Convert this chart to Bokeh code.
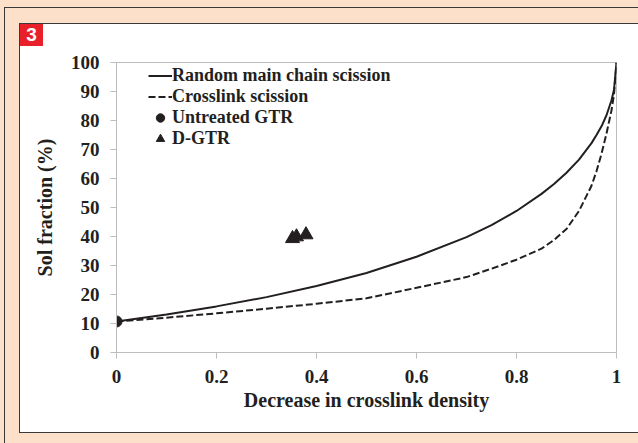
from bokeh.plotting import figure
from bokeh.models import (Range1d, FixedTicker, Legend, LegendItem, Spacer,
                          Div, Row, Column)
from bokeh.embed import file_html
from bokeh.resources import INLINE

# ---- data ----
decrease = [0, 0.1, 0.2, 0.3, 0.4, 0.5, 0.6, 0.7, 0.75, 0.8, 0.85, 0.875,
            0.9, 0.925, 0.95, 0.96, 0.97, 0.98, 0.99, 0.995, 1.0]
random_scission = [10.7, 13.1, 15.9, 19.1, 22.9, 27.4, 33.0, 39.8, 43.9,
                   48.8, 54.7, 58.1, 62.0, 66.5, 72.2, 75.0, 78.0, 81.8,
                   87.0, 90.6, 100.0]
crosslink_scission = [10.7, 12.0, 13.5, 15.1, 16.8, 18.7, 22.3, 26.0, 28.9,
                      32.0, 35.8, 38.8, 42.6, 48.8, 57.5, 62.5, 68.5, 75.5,
                      83.5, 89.0, 100.0]
untreated_x = [0.0]
untreated_y = [10.7]
dgtr_x = [0.352, 0.36, 0.379]
dgtr_y = [39.3, 39.9, 40.6]

x_ticks = [0, 0.2, 0.4, 0.6, 0.8, 1]
x_tick_labels = ["0", "0.2", "0.4", "0.6", "0.8", "1"]
y_ticks = [0, 10, 20, 30, 40, 50, 60, 70, 80, 90, 100]

legend_labels = ["Random main chain scission", "Crosslink scission",
                 "Untreated GTR", "D-GTR"]
badge_label = "3"

PEACH = "#fde0c9"
RED = "#e8202a"
DARK = "#3a3a3a"
TEXT = "#231f20"
GRAY = "#bdbdbd"
SERIF = "Liberation Serif"

p = figure(width=618, height=386, output_backend="svg", toolbar_location=None,
           x_range=Range1d(0, 1), y_range=Range1d(0, 100),
           min_border_left=96, min_border_right=22, min_border_top=16,
           min_border_bottom=80, border_fill_color="white",
           background_fill_color="white")
p.outline_line_color = GRAY
p.outline_line_width = 1
p.grid.visible = False

# axes
for ax in (p.xaxis[0], p.yaxis[0]):
    ax.axis_line_color = GRAY
    ax.major_tick_line_color = GRAY
    ax.major_tick_out = 6
    ax.major_tick_in = 0
    ax.minor_tick_line_color = None
    ax.major_label_text_font = SERIF
    ax.major_label_text_font_style = "bold"
    ax.major_label_text_font_size = "19px"
    ax.major_label_text_color = TEXT
    ax.axis_label_text_font = SERIF
    ax.axis_label_text_font_style = "bold"
    ax.axis_label_text_font_size = "20px"
    ax.axis_label_text_color = TEXT

p.xaxis.ticker = FixedTicker(ticks=x_ticks)
p.xaxis.major_label_overrides = {t: l for t, l in zip(x_ticks, x_tick_labels)}
p.xaxis.major_label_standoff = 11
p.xaxis.axis_label = "Decrease in crosslink density"
p.xaxis.axis_label_standoff = 3

p.yaxis.ticker = FixedTicker(ticks=y_ticks)
p.yaxis.major_label_standoff = 11
p.yaxis.axis_label = "Sol fraction (%)"
p.yaxis.axis_label_standoff = 12

# series
r1 = p.line(decrease, random_scission, line_color=TEXT, line_width=2)
r2 = p.line(decrease, crosslink_scission, line_color=TEXT, line_width=2,
            line_dash="7 3")
r3 = p.scatter(untreated_x, untreated_y, marker="circle", size=11,
               color=TEXT)
r4 = p.scatter(dgtr_x, dgtr_y, marker="triangle", size=14, color=TEXT)

legend = Legend(items=[LegendItem(label=l, renderers=[r])
                       for l, r in zip(legend_labels, [r1, r2, r3, r4])],
                location=(32, 203))
legend.background_fill_alpha = 0
legend.border_line_color = None
legend.padding = 0
legend.margin = 0
legend.spacing = 0
legend.glyph_width = 24
legend.glyph_height = 21
legend.label_height = 21
legend.label_standoff = 0
legend.label_text_font = SERIF
legend.label_text_font_style = "bold"
legend.label_text_font_size = "18px"
legend.label_text_color = TEXT
p.add_layout(legend)


# ---- page decoration: peach frame, dark rules, white panel, badge ----
def sp(w, h, color=None):
    if color is None:
        return Spacer(width=w, height=h)
    return Spacer(width=w, height=h, styles={"background-color": color})


badge = Div(
    text=(f'<div style="width:23px;height:22px;background:{RED};color:#fff;'
          f"font-family:'Liberation Sans';font-weight:bold;font-size:19px;"
          f'text-align:center;line-height:22px;">{badge_label}</div>'),
    width=23, height=22, margin=0,
    styles={"background-color": RED})

panel = Column(children=[Row(children=[badge, sp(595, 22, "white")]), p],
               styles={"background-color": "white"})

root = Column(children=[
    sp(638, 7),
    Row(children=[sp(4, 1), sp(634, 1, DARK)]),
    Row(children=[sp(4, 15), sp(1, 15, DARK), sp(633, 15)]),
    Row(children=[sp(4, 1), sp(1, 1, DARK), sp(14, 1), sp(619, 1, DARK)]),
    Row(children=[sp(4, 408), sp(1, 408, DARK), sp(14, 408),
                  sp(1, 408, DARK), panel]),
    Row(children=[sp(4, 1), sp(1, 1, DARK), sp(14, 1), sp(619, 1, DARK)]),
    Row(children=[sp(4, 10), sp(1, 10, DARK), sp(633, 10)]),
], styles={"background-color": PEACH})

open("out.html", "w").write(file_html(root, INLINE))
